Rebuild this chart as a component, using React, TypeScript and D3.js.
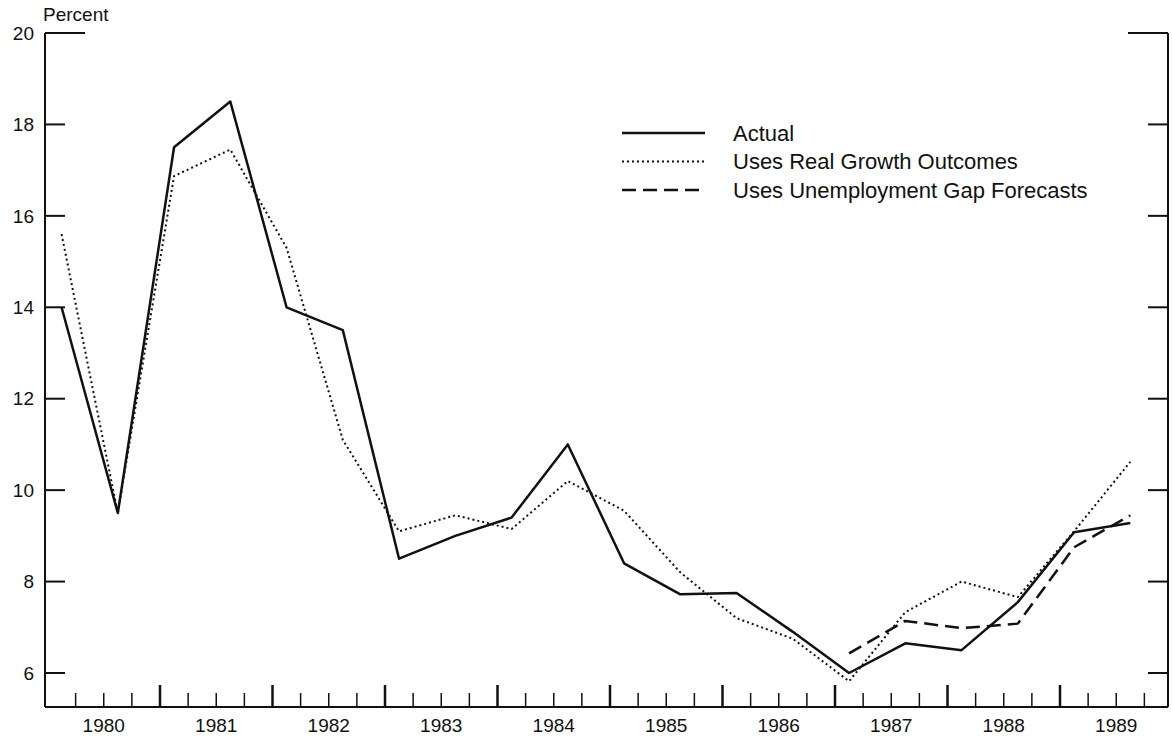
import React from "react";
import * as d3 from "d3";

const quarters = [
  "1980Q1", "1980Q3", "1981Q1", "1981Q3", "1982Q1", "1982Q3", "1983Q1", "1983Q3",
  "1984Q1", "1984Q3", "1985Q1", "1985Q3", "1986Q1", "1986Q3", "1987Q1", "1987Q3",
  "1988Q1", "1988Q3", "1989Q1", "1989Q3",
];
const actual = [14.0, 9.5, 17.5, 18.5, 14.0, 13.5, 8.5, 9.0, 9.4, 11.0, 8.4, 7.72, 7.75, 6.9, 6.0, 6.65, 6.5, 7.55, 9.08, 9.28];
const realGrowth = [15.6, 9.5, 16.87, 17.45, 15.3, 11.1, 9.1, 9.45, 9.15, 10.2, 9.55, 8.2, 7.2, 6.75, 5.82, 7.33, 8.0, 7.66, 9.1, 10.62];
const gapQuarters = ["1987Q1", "1987Q3", "1988Q1", "1988Q3", "1989Q1", "1989Q3"];
const gapForecast = [6.43, 7.14, 6.98, 7.08, 8.75, 9.45];
const years = [1980, 1981, 1982, 1983, 1984, 1985, 1986, 1987, 1988, 1989];
const yTicks = [6, 8, 10, 12, 14, 16, 18, 20];
const legendLabels = ["Actual", "Uses Real Growth Outcomes", "Uses Unemployment Gap Forecasts"];

const W = 1172;
const H = 736;
const LEFT = 45;
const RIGHT = 1168;
const TOP = 33;
const BOTTOM = 707;
const FONT = "'Liberation Sans', Arial, Helvetica, sans-serif";

function qTime(q: string): number {
  const y = +q.slice(0, 4);
  const n = +q.slice(5);
  return y + (n - 1) / 4 + 0.125;
}

export default function App() {
  const x = d3.scaleLinear().domain([1980, 1990]).range([47.5, 1172.5]);
  const y = d3.scaleLinear().domain([6, 20]).range([673, 33]);

  const line = d3
    .line<[number, number]>()
    .x((d) => x(d[0]))
    .y((d) => y(d[1]));

  const actualPts: [number, number][] = quarters.map((q, i) => [qTime(q), actual[i]]);
  const realPts: [number, number][] = quarters.map((q, i) => [qTime(q), realGrowth[i]]);
  const gapPts: [number, number][] = gapQuarters.map((q, i) => [qTime(q), gapForecast[i]]);

  const styles = [
    { dash: "none", width: 2.5 },
    { dash: "2,3", width: 2 },
    { dash: "14,7", width: 2.5 },
  ];

  const minorTicks: number[] = [];
  const majorTicks: number[] = [];
  years.forEach((yr) => {
    if (yr > 1980) majorTicks.push(yr);
    [0.25, 0.5, 0.75].forEach((f) => minorTicks.push(yr + f));
  });

  return (
    <svg
      width={W}
      height={H}
      viewBox={`0 0 ${W} ${H}`}
      style={{ position: "absolute", left: 0, top: 0, background: "#fff" }}
    >
      <rect x={0} y={0} width={W} height={H} fill="#fff" />
      {/* frame axes */}
      <g stroke="#111" strokeWidth={2} fill="none">
        <line x1={LEFT} y1={TOP} x2={LEFT} y2={BOTTOM} />
        <line x1={RIGHT} y1={TOP} x2={RIGHT} y2={BOTTOM} />
        <line x1={LEFT} y1={BOTTOM} x2={RIGHT} y2={BOTTOM} />
        {yTicks.map((t) => {
          const len = t === 20 ? 40 : 20;
          return (
            <g key={t}>
              <line x1={LEFT} y1={y(t)} x2={LEFT + len} y2={y(t)} />
              <line x1={RIGHT - len} y1={y(t)} x2={RIGHT} y2={y(t)} />
            </g>
          );
        })}
        {majorTicks.map((t) => (
          <line key={"M" + t} x1={x(t)} y1={BOTTOM} x2={x(t)} y2={BOTTOM - 22} strokeWidth={2.5} />
        ))}
        {minorTicks.map((t) => (
          <line key={"m" + t} x1={x(t)} y1={BOTTOM} x2={x(t)} y2={BOTTOM - 14} strokeWidth={1.5} />
        ))}
      </g>
      {/* y labels */}
      <g fontFamily={FONT} fontSize={19} fill="#111">
        {yTicks.map((t) => (
          <text key={t} x={34} y={y(t)} dy="0.35em" textAnchor="end">
            {t}
          </text>
        ))}
        <text x={43} y={21}>Percent</text>
        {years.map((yr) => (
          <text key={yr} x={x(yr + 0.5)} y={732} textAnchor="middle">
            {yr}
          </text>
        ))}
      </g>
      {/* series */}
      <g fill="none" stroke="#111" strokeLinejoin="round">
        <path d={line(actualPts) || ""} strokeWidth={styles[0].width} />
        <path d={line(realPts) || ""} strokeWidth={styles[1].width} strokeDasharray={styles[1].dash} />
        <path d={line(gapPts) || ""} strokeWidth={styles[2].width} strokeDasharray={styles[2].dash} />
      </g>
      {/* legend */}
      <g fontFamily={FONT} fontSize={22} fill="#111">
        {legendLabels.map((lab, i) => (
          <g key={lab} transform={`translate(0, ${133 + i * 28.5})`}>
            <line
              x1={622}
              x2={705}
              y1={0}
              y2={0}
              stroke="#111"
              strokeWidth={styles[i].width}
              strokeDasharray={styles[i].dash === "none" ? undefined : styles[i].dash}
            />
            <text x={733} y={0} dy="0.35em">
              {lab}
            </text>
          </g>
        ))}
      </g>
    </svg>
  );
}
